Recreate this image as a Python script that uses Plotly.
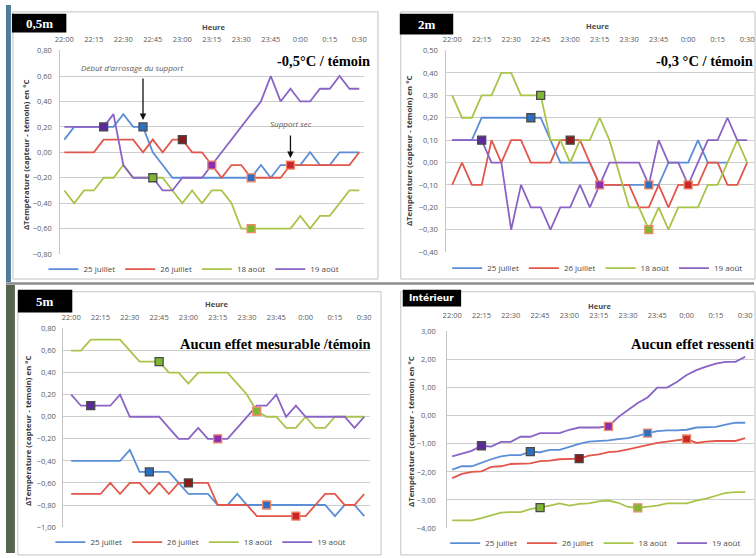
import plotly.graph_objects as go

W, H = 756, 558


def px(x):
    return x / W


def py(y):
    return 1 - y / H


# ---- time categories (5-minute steps, 22:00 -> 0:30) ----
times = ["22:00", "22:05", "22:10", "22:15", "22:20", "22:25", "22:30", "22:35",
         "22:40", "22:45", "22:50", "22:55", "23:00", "23:05", "23:10", "23:15",
         "23:20", "23:25", "23:30", "23:35", "23:40", "23:45", "23:50", "23:55",
         "0:00", "0:05", "0:10", "0:15", "0:20", "0:25", "0:30"]
tick_times = ["22:00", "22:15", "22:30", "22:45", "23:00", "23:15",
              "23:30", "23:45", "0:00", "0:15", "0:30"]
series_names = ["25 juillet", "26 juillet", "18 août", "19 août"]

# ---- 0,5 m ----
m05_25juil = [0.1, 0.2, 0.2, 0.2, 0.2, 0.2, 0.3, 0.2, 0.2, 0.0, -0.1, -0.2, -0.2, -0.2, -0.2, -0.2,
              -0.2, -0.2, -0.2, -0.2, -0.1, -0.2, -0.1, -0.1, -0.1, 0.0, -0.1, -0.1, 0.0, 0.0, 0.0]
m05_26juil = [0.0, 0.0, 0.0, 0.0, 0.1, 0.1, 0.1, 0.1, 0.0, 0.1, 0.0, 0.1, 0.1, 0.0, 0.0, -0.1,
              -0.2, -0.1, -0.1, -0.2, -0.2, -0.2, -0.2, -0.1, -0.1, -0.1, -0.1, -0.1, -0.1, -0.1, 0.0]
m05_18aout = [-0.3, -0.4, -0.3, -0.3, -0.2, -0.2, -0.1, -0.2, -0.2, -0.2, -0.2, -0.3, -0.4, -0.3, -0.4, -0.3,
              -0.3, -0.4, -0.6, -0.6, -0.6, -0.6, -0.6, -0.6, -0.5, -0.6, -0.5, -0.5, -0.4, -0.3, -0.3]
m05_19aout = [0.2, 0.2, 0.2, 0.2, 0.2, 0.3, -0.1, -0.2, -0.2, -0.2, -0.3, -0.3, -0.2, -0.2, -0.2, -0.1,
              0.0, 0.1, 0.2, 0.3, 0.4, 0.6, 0.4, 0.5, 0.4, 0.4, 0.5, 0.5, 0.6, 0.5, 0.5]
m05_marks = [[8, 19], [12, 23], [9, 19], [4, 15]]

# ---- 2 m ----
m2_25juil = [0.1, 0.1, 0.1, 0.2, 0.2, 0.2, 0.2, 0.2, 0.2, 0.2, 0.1, 0.0, 0.0, 0.0, 0.0, -0.1,
             -0.1, -0.1, -0.1, -0.1, -0.1, -0.1, 0.0, 0.0, 0.0, 0.1, 0.0, 0.0, 0.0, None, None]
m2_26juil = [-0.1, 0.0, -0.1, -0.1, 0.1, 0.0, 0.1, 0.1, 0.0, 0.0, 0.0, 0.1, 0.1, 0.1, 0.0, -0.1,
             -0.1, -0.1, -0.1, -0.2, -0.2, -0.1, -0.2, -0.1, -0.1, -0.1, 0.0, 0.0, -0.1, -0.1, 0.0]
m2_18aout = [0.3, 0.2, 0.2, 0.3, 0.3, 0.4, 0.4, 0.3, 0.3, 0.3, 0.1, 0.1, 0.0, 0.1, 0.1, 0.2,
             0.1, -0.05, -0.2, -0.2, -0.3, -0.2, -0.3, -0.2, -0.2, -0.2, -0.1, -0.1, 0.0, 0.1, 0.0]
m2_19aout = [0.1, 0.1, 0.1, 0.1, 0.0, 0.0, -0.3, -0.1, -0.2, -0.2, -0.3, -0.2, -0.2, -0.1, -0.2, -0.1,
             0.0, 0.0, 0.0, 0.0, -0.1, 0.1, 0.0, 0.0, -0.1, 0.0, 0.1, 0.1, 0.2, 0.1, 0.1]
m2_marks = [[8, 20], [12, 24], [9, 20], [3, 15]]

# ---- 5 m ----
m5_25juil = [-0.4, -0.4, -0.4, -0.4, -0.4, -0.4, -0.3, -0.5, -0.5, -0.5, -0.5, -0.6, -0.7, -0.7, -0.7, -0.8,
             -0.8, -0.7, -0.8, -0.8, -0.8, -0.8, -0.8, -0.8, -0.8, -0.8, -0.8, -0.9, -0.8, -0.8, -0.9]
m5_26juil = [-0.7, -0.7, -0.7, -0.7, -0.6, -0.7, -0.6, -0.6, -0.7, -0.6, -0.7, -0.6, -0.6, -0.6, -0.6, -0.8,
             -0.8, -0.8, -0.8, -0.9, -0.9, -0.9, -0.9, -0.9, -0.9, -0.8, -0.7, -0.7, -0.8, -0.8, -0.7]
m5_18aout = [0.6, 0.6, 0.7, 0.7, 0.7, 0.7, 0.6, 0.5, 0.5, 0.5, 0.4, 0.4, 0.3, 0.4, 0.4, 0.4,
             0.4, 0.3, 0.2, 0.05, 0.0, 0.0, -0.1, -0.1, 0.0, -0.1, -0.1, 0.0, 0.0, 0.0, 0.0]
m5_19aout = [0.2, 0.1, 0.1, 0.1, 0.1, 0.2, 0.0, 0.0, 0.0, 0.0, -0.1, -0.2, -0.2, -0.1, -0.2, -0.2,
             -0.2, -0.1, 0.0, 0.1, 0.1, 0.2, 0.0, 0.1, 0.0, 0.0, 0.0, 0.0, 0.0, -0.1, 0.0]
m5_marks = [[8, 20], [12, 23], [9, 19], [2, 15]]

# ---- Intérieur ----
int_25juil = [-1.92, -1.8, -1.8, -1.67, -1.55, -1.45, -1.4, -1.4, -1.28, -1.3, -1.22, -1.22, -1.1, -1.0, -0.92, -0.9,
              -0.88, -0.83, -0.8, -0.72, -0.62, -0.55, -0.52, -0.52, -0.5, -0.42, -0.4, -0.4, -0.32, -0.25, -0.25]
int_26juil = [-2.22, -2.07, -2.0, -1.98, -1.82, -1.8, -1.72, -1.72, -1.7, -1.62, -1.6, -1.55, -1.55, -1.53, -1.42, -1.38,
              -1.3, -1.27, -1.2, -1.12, -1.05, -0.97, -0.92, -0.88, -0.83, -0.97, -0.92, -0.9, -0.9, -0.9, -0.8]
int_18aout = [-3.73, -3.73, -3.73, -3.65, -3.55, -3.45, -3.43, -3.43, -3.33, -3.27, -3.2, -3.12, -3.2, -3.14, -3.12, -3.05,
              -3.02, -3.1, -3.25, -3.28, -3.25, -3.2, -3.12, -3.12, -3.12, -3.02, -2.95, -2.85, -2.75, -2.72, -2.72]
int_19aout = [-1.45, -1.35, -1.25, -1.07, -1.1, -0.93, -0.93, -0.75, -0.75, -0.62, -0.62, -0.62, -0.5, -0.42, -0.42, -0.42,
              -0.38, -0.05, 0.2, 0.45, 0.65, 1.0, 1.0, 1.2, 1.45, 1.62, 1.75, 1.85, 1.92, 1.92, 2.1]
int_marks = [[8, 20], [13, 24], [9, 19], [3, 16]]

line_colors = ["#5b8ed6", "#e2574c", "#a9c44a", "#8a64c4"]
mark_fill = [["#2f6fc0", "#2f6fc0"], ["#8b1a1a", "#c8282a"],
             ["#7fb830", "#7fb830"], ["#5b2a9c", "#8a2fb0"]]
mark_edge = ["#4a4a4a", "#f08a6a"]

panels = [
    dict(ax="", series=[m05_25juil, m05_26juil, m05_18aout, m05_19aout], marks=m05_marks,
         yr=[-0.8, 0.8], dtick=0.2, dom_x=(55, 362), dom_y=(46, 254), xr=[-0.4, 30.5],
         legend="legend", xstand=6, ystand=6),
    dict(ax="2", series=[m2_25juil, m2_26juil, m2_18aout, m2_19aout], marks=m2_marks,
         yr=[-0.4, 0.5], dtick=0.1, dom_x=(445, 756), dom_y=(46, 252), xr=[-0.6, 30.7],
         legend="legend2", xstand=6, ystand=6),
    dict(ax="3", series=[m5_25juil, m5_26juil, m5_18aout, m5_19aout], marks=m5_marks,
         yr=[-1.0, 0.8], dtick=0.2, dom_x=(58, 368), dom_y=(329, 532), xr=[-0.8, 30.6],
         legend="legend3", xstand=6, ystand=5),
    dict(ax="4", series=[int_25juil, int_26juil, int_18aout, int_19aout], marks=int_marks,
         yr=[-4.0, 3.0], dtick=1.0, dom_x=(446, 756), dom_y=(332, 533), xr=[-0.5, 30.9],
         legend="legend4", xstand=11, ystand=9),
]

fig = go.Figure()
layout = {}

for p in panels:
    xa, ya = "x" + p["ax"], "y" + p["ax"]
    for k, (name, vals) in enumerate(zip(series_names, p["series"])):
        fig.add_trace(go.Scatter(
            x=times, y=vals, name=name, mode="lines", xaxis=xa, yaxis=ya,
            line=dict(color=line_colors[k], width=1.8), legend=p["legend"],
            connectgaps=False, hoverinfo="skip"))
    for k, vals in enumerate(p["series"]):
        idx = p["marks"][k]
        fig.add_trace(go.Scatter(
            x=[times[i] for i in idx], y=[vals[i] for i in idx], mode="markers",
            xaxis=xa, yaxis=ya, showlegend=False, hoverinfo="skip",
            marker=dict(symbol="square", size=8, color=mark_fill[k],
                        line=dict(color=mark_edge, width=1.3))))
    pad = (p["yr"][1] - p["yr"][0]) * 0.002
    layout["xaxis" + p["ax"]] = dict(
        domain=[px(p["dom_x"][0]), px(p["dom_x"][1])], anchor=ya, side="top",
        type="category", range=p["xr"], tickmode="array", tickvals=tick_times,
        ticktext=tick_times, showgrid=False, zeroline=False, showline=False,
        ticks="", ticklabelstandoff=p["xstand"],
        tickfont=dict(family="Open Sans", size=7.5, color="#5a5a5a"))
    layout["yaxis" + p["ax"]] = dict(
        domain=[py(p["dom_y"][1]), py(p["dom_y"][0])], anchor=xa,
        range=[p["yr"][0] - pad, p["yr"][1] + pad], dtick=p["dtick"], tick0=0,
        tickformat=".2f", showgrid=True, gridcolor="#cdcdcd", gridwidth=1,
        zeroline=False, showline=True, linecolor="#c4c4c4", linewidth=1,
        ticks="", ticklabelstandoff=p["ystand"],
        tickfont=dict(family="Open Sans", size=7.5, color="#5a5a5a"))

legend_style = dict(orientation="h", xanchor="center", yanchor="middle",
                    font=dict(family="Open Sans", size=8, color="#4a4a4a"),
                    bgcolor="rgba(0,0,0,0)", itemwidth=30, tracegroupgap=0)
layout["legend"] = dict(x=px(190), y=py(269), **legend_style)
layout["legend2"] = dict(x=px(598), y=py(268), **legend_style)
layout["legend3"] = dict(x=px(197), y=py(547), **legend_style)
layout["legend4"] = dict(x=px(596), y=py(548), **legend_style)

# ---- frames, separators and panel tags ----
shapes = []


def rect(x0, y0, x1, y1, **kw):
    shapes.append(dict(type="rect", xref="paper", yref="paper",
                       x0=px(x0), x1=px(x1), y0=py(y1), y1=py(y0), **kw))


rect(0, 0, 5, 282, fillcolor="#4f7d98", line=dict(width=0), layer="below")
rect(0, 285, 9, 558, fillcolor="#56654e", line=dict(width=0), layer="below")
rect(7, 7, 376, 279, line=dict(color="#c2c2c2", width=1), layer="below")
rect(399, 7, 757, 279, line=dict(color="#c2c2c2", width=1), layer="below")
rect(12, 292, 379, 560, line=dict(color="#c2c2c2", width=1), layer="below")
rect(399, 292, 757, 560, line=dict(color="#c2c2c2", width=1), layer="below")
shapes.append(dict(type="line", xref="paper", yref="paper", x0=0, x1=1,
                   y0=py(283.5), y1=py(283.5), line=dict(color="#8c8c8c", width=2.5)))
rect(6, 9, 61, 28, fillcolor="#000000", line=dict(width=0))
rect(398, 9, 452, 30, fillcolor="#000000", line=dict(width=0))
rect(12, 290, 67, 313, fillcolor="#000000", line=dict(width=0))
rect(401, 290, 460, 307, fillcolor="#000000", line=dict(width=0))

ann = []


def text(x, y, s, size, color="#000000", family="Liberation Serif", xanchor="center",
         angle=0, bold=False):
    ann.append(dict(xref="paper", yref="paper", x=px(x), y=py(y), text=("<b>%s</b>" % s) if bold else s,
                    showarrow=False, xanchor=xanchor, yanchor="middle", textangle=angle,
                    font=dict(family=family, size=size, color=color)))


text(33.5, 18.5, "0,5m", 13, "#ffffff", bold=True)
text(425, 19.5, "2m", 13, "#ffffff", bold=True)
text(39.5, 301.5, "5m", 13, "#ffffff", bold=True)
text(430.5, 298.5, "Intérieur", 9, "#ffffff", family="DejaVu Sans", bold=True)

text(370, 57, "-0,5°C / témoin", 14.5, bold=True, xanchor="right")
text(757, 57, "-0,3 °C / témoin", 14.5, bold=True, xanchor="right")
text(370, 345, "Aucun effet mesurable /témoin", 14.5, bold=True, xanchor="right")
text(758, 345, "Aucun effet ressenti", 14.5, bold=True, xanchor="right")

for hx, hy in [(210, 22), (598, 21), (213, 304), (600, 307)]:
    text(hx, hy, "Heure", 7.5, "#4a4a4a", family="Open Sans", bold=True)

ytitle = "ΔTempérature (capteur - témoin) en °C"
for tx, ty in [(20, 152), (408, 148), (22, 433), (410, 434)]:
    text(tx, ty, ytitle, 7.8, "#3a3a3a", family="Open Sans", angle=-90, bold=True)

text(127, 64, "<i>Début d'arrosage du support</i>", 8, "#5a5a5a", family="Open Sans")
text(288, 121, "<i>Support sec</i>", 8, "#5a5a5a", family="Open Sans")

# arrows pointing at the watering start and the dry-support moments
ann.append(dict(xref="x", yref="y", x=times[m05_marks[0][0]], y=m05_25juil[m05_marks[0][0]],
                ax=0, ay=-50, text="", showarrow=True, arrowhead=2, arrowsize=1,
                arrowwidth=1.3, arrowcolor="#111111", standoff=7))
ann.append(dict(xref="x", yref="y", x=times[m05_marks[1][1]], y=m05_26juil[m05_marks[1][1]],
                ax=0, ay=-31, text="", showarrow=True, arrowhead=2, arrowsize=1,
                arrowwidth=1.3, arrowcolor="#111111", standoff=7))

layout.update(dict(
    width=W, height=H, margin=dict(l=0, r=0, t=0, b=0),
    paper_bgcolor="#ffffff", plot_bgcolor="#ffffff",
    separators=", ", shapes=shapes, annotations=ann, hovermode=False,
))
fig.update_layout(**layout)
fig.write_html("out.html")
